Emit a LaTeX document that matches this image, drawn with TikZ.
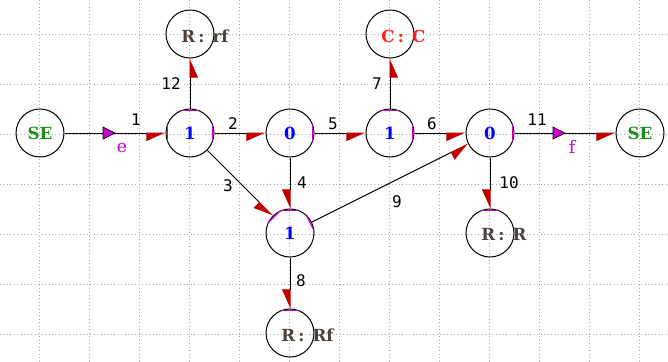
\documentclass[tikz,border=0pt]{standalone}
\usepackage{fontspec}
\setmainfont{DejaVu Serif}
\newfontfamily\monofont{DejaVu Sans Mono}
\usetikzlibrary{arrows.meta,calc}
\definecolor{arred}{HTML}{C00000}
\definecolor{mag}{HTML}{CC00CC}
\definecolor{segreen}{HTML}{1E8C1E}
\definecolor{rtext}{HTML}{4A4238}
\definecolor{ctext}{HTML}{FF2020}
\definecolor{numblue}{HTML}{0000FF}
\definecolor{gridc}{HTML}{A8A8A8}
\newcommand{\cstrk}[2]{%
  \path ($(#1)!17pt!(#2)$) coordinate (csp);
  \draw[cs] ($(csp)!6pt!90:(#2)$) -- ($(csp)!6pt!-90:(#2)$);}
\newcommand{\sigtri}[1]{%
  \filldraw[fill=mag,draw=black,line width=0.5pt] ($(#1)+(-12,-6)$) -- (#1) -- ($(#1)+(-12,6)$) -- cycle;}
\newcommand{\rlab}[2]{#1\hspace{2.5pt}:\hspace{6pt}#2}
\begin{document}
\begin{tikzpicture}[x=0.75pt,y=-0.75pt,
  elem/.style={circle,draw=black,line width=0.75pt,minimum size=36pt,inner sep=0pt,
    font=\bfseries\fontsize{12.5}{14}\selectfont},
  lbl/.style={font=\bfseries\fontsize{12.5}{14}\selectfont,inner sep=0pt,anchor=west},
  bond/.style={line width=0.75pt,-{Triangle[right,length=13.5pt,width=12pt,color=arred]}},
  bnum/.style={font=\monofont\fontsize{12}{14}\selectfont,inner sep=0pt},
  sig/.style={font=\fontsize{13}{15}\selectfont,text=mag,inner sep=0pt},
  cs/.style={mag,line width=1pt},
  gridln/.style={gridc,dotted,line width=0.6pt}]
\useasboundingbox (0,0) rectangle (668,361);
\fill[white] (0,0) rectangle (668,361);
% grid
\foreach \gx in {39,89,...,639} \draw[gridln] (\gx,0) -- (\gx,361);
\foreach \gy in {34,84,...,334} \draw[gridln] (0,\gy) -- (668,\gy);
% elements
\node[elem,text=segreen] (se1) at (40,133) {SE};
\node[elem,text=numblue] (oa) at (190,133) {1};
\node[elem,text=numblue] (za) at (290,133) {0};
\node[elem,text=numblue] (ob) at (390,133) {1};
\node[elem,text=numblue] (zb) at (490,133) {0};
\node[elem,text=segreen] (se2) at (640,133) {SE};
\node[elem,text=numblue] (oc) at (290,233) {1};
\node[elem] (rrf) at (190,34) {};
\node[elem] (cc) at (390,34) {};
\node[elem] (rr) at (490,233) {};
\node[elem] (rf) at (290,333) {};
\node[lbl,text=rtext] (trrf) at (181,36) {\rlab{R}{rf}};
\node[lbl,text=ctext] (tcc) at (381,36) {\rlab{C}{C}};
\node[lbl,text=rtext] (trr) at (481,235) {\rlab{R}{R}};
\node[lbl,text=rtext] (trf) at (281,335) {\rlab{R}{Rf}};
% bonds
\draw[bond] (se1) -- (oa);
\draw[bond] (oa) -- (za);
\draw[bond] (oa) -- (rrf);
\draw[bond] (za) -- (ob);
\draw[bond] (ob) -- (zb);
\draw[bond] (ob) -- (cc);
\draw[bond] (zb) -- (se2);
\draw[bond] (oa) -- (oc);
\draw[bond] (za) -- (oc);
\draw[bond] (oc) -- (zb);
\draw[bond] (oc) -- (rf);
\draw[bond] (zb) -- (rr);
% causal strokes
\cstrk{oa}{se1}
\cstrk{oa}{za}
\cstrk{oa}{rrf}
\cstrk{za}{ob}
\cstrk{ob}{zb}
\cstrk{ob}{cc}
\cstrk{zb}{se2}
\cstrk{oc}{oa}
\cstrk{oc}{za}
\cstrk{oc}{zb}
\cstrk{rf}{oc}
\cstrk{rr}{zb}
% signal markers
\path ($(se1)!0.5!(oa)$) coordinate (m1);
\path ($(zb)!0.5!(se2)$) coordinate (m2);
\sigtri{m1}
\sigtri{m2}
\node[sig] (le) at ($(m1)+(7,15)$) {e};
\node[sig] (lf) at ($(m2)+(7,14)$) {f};
% bond numbers
\node[bnum] (n1) at (136,120) {1};
\node[bnum] (n2) at (233,124) {2};
\node[bnum] (n12) at (171,84) {12};
\node[bnum] (n5) at (333,124) {5};
\node[bnum] (n6) at (432,124) {6};
\node[bnum] (n7) at (377,84) {7};
\node[bnum] (n11) at (537,120) {11};
\node[bnum] (n3) at (228,186) {3};
\node[bnum] (n4) at (302,183) {4};
\node[bnum] (n9) at (397,202) {9};
\node[bnum] (n10) at (509,183) {10};
\node[bnum] (n8) at (301,281) {8};
\end{tikzpicture}
\end{document}
